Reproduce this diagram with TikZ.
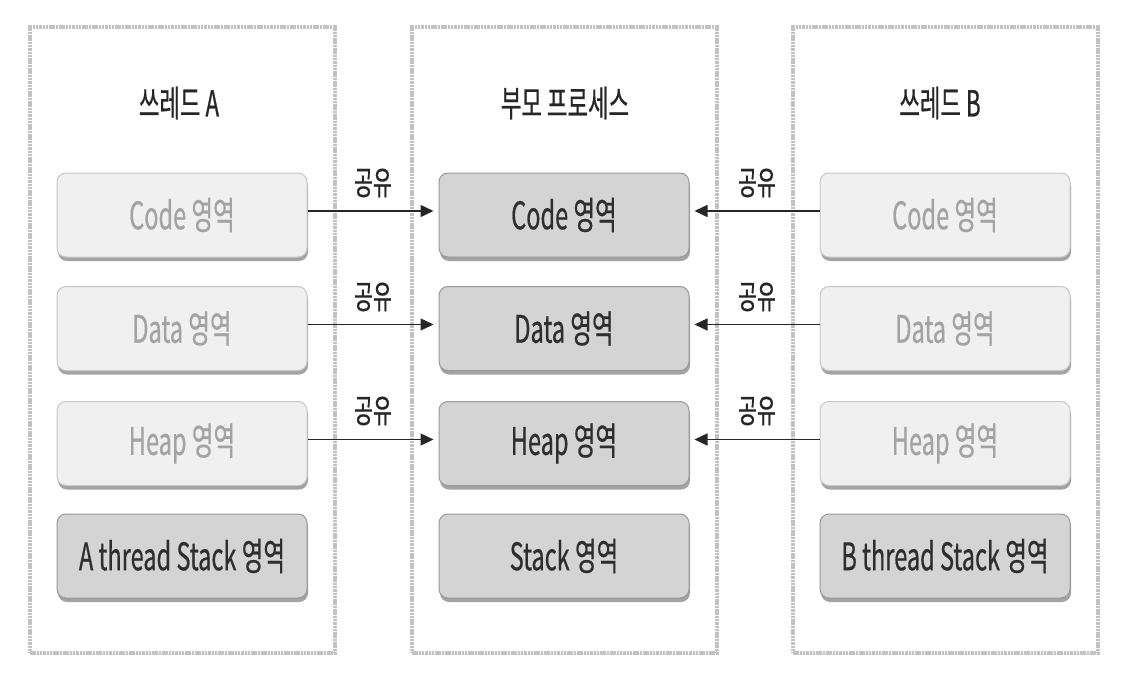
\documentclass[tikz,border=0pt]{standalone}
\usepackage{fontspec}
\setmainfont[FakeStretch=0.62,FakeBold=0.5]{Noto Sans CJK KR}
\usetikzlibrary{shadows,arrows.meta}
\tikzset{
  panel/.style={draw=black!24, line width=4pt, dash pattern=on 2.5pt off 0.8pt, fill=white, minimum width=305pt, minimum height=626pt, inner sep=0pt,
     drop shadow={shadow xshift=1pt, shadow yshift=-2pt, fill=black!15}},
  title/.style={font=\fontsize{36}{40}\selectfont, text=black!85},
  boxbase/.style={rounded corners=9pt, minimum width=250pt, minimum height=84pt, inner sep=0pt, line width=1pt,
     font=\fontsize{38}{42}\selectfont,
     drop shadow={shadow xshift=1pt, shadow yshift=-4pt, fill=black!45, opacity=0.8}},
  lightbox/.style={boxbase, fill=black!6, draw=black!22, text=black!36},
  darkbox/.style={boxbase, fill=black!17, draw=black!40, text=black!82},
  share/.style={font=\fontsize{33}{36}\selectfont, text=black!85},
  conn/.style={line width=1.4pt, draw=black!85, -{Triangle[length=13pt,width=12pt]}, shorten >=5pt}
}
\begin{document}
\begin{tikzpicture}[x=1pt,y=-1pt]
\useasboundingbox[fill=white] (0,0) rectangle (1124,682);
% panels
\node[panel] (pA) at (182.5,340) {};
\node[panel] (pM) at (564.5,340) {};
\node[panel] (pB) at (945.5,340) {};
% titles
\node[title] (tA) at (179,103) {쓰레드 A};
\node[title] (tM) at (565,103) {부모 프로세스};
\node[title] (tB) at (940,103) {쓰레드 B};
% left boxes
\node[lightbox] (aC) at (182,215) {Code 영역};
\node[lightbox] (aD) at (182,328.5) {Data 영역};
\node[lightbox] (aH) at (182,443.5) {Heap 영역};
\node[darkbox]  (aS) at (182,556) {A thread Stack 영역};
% middle boxes
\node[darkbox] (mC) at (564,215) {Code 영역};
\node[darkbox] (mD) at (564,328.5) {Data 영역};
\node[darkbox] (mH) at (564,443.5) {Heap 영역};
\node[darkbox] (mS) at (564,556) {Stack 영역};
% right boxes
\node[lightbox] (bC) at (945,215) {Code 영역};
\node[lightbox] (bD) at (945,328.5) {Data 영역};
\node[lightbox] (bH) at (945,443.5) {Heap 영역};
\node[darkbox]  (bS) at (945,556) {B thread Stack 영역};
% connectors
\foreach \r in {C,D,H}{
  \draw[conn] ([yshift=4pt]a\r.east) -- ([yshift=4pt]m\r.west);
  \draw[conn] ([yshift=4pt]b\r.west) -- ([yshift=4pt]m\r.east);
}
% labels
\node[share] (lA1) at (373,183) {공유};
\node[share] (lA2) at (373,297) {공유};
\node[share] (lA3) at (373,411) {공유};
\node[share] (lB1) at (757,183) {공유};
\node[share] (lB2) at (757,297) {공유};
\node[share] (lB3) at (757,411) {공유};
\end{tikzpicture}
\end{document}
